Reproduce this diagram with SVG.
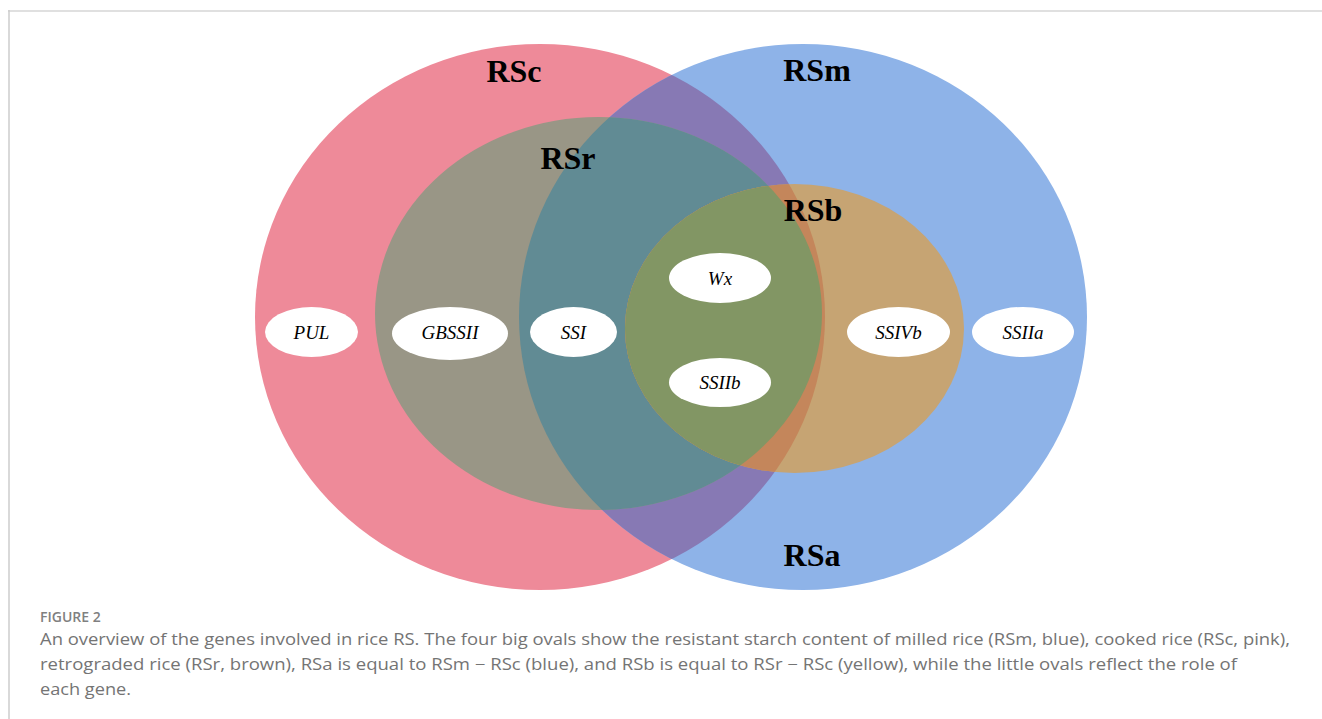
<svg xmlns="http://www.w3.org/2000/svg" width="1322" height="719" viewBox="0 0 1322 719">
  <style>
    .big { font-family: "Liberation Serif", "Times New Roman", serif; font-weight: bold; font-size: 32px; fill: #000; text-anchor: middle; }
    .gene { font-family: "Liberation Serif", "Times New Roman", serif; font-style: italic; font-size: 19px; fill: #000; text-anchor: middle; }
    .oval { fill: #ffffff; }
    .cap { font-family: "Open Sans", "Liberation Sans", sans-serif; font-size: 16px; fill: #747474; }
    .fig { font-family: "Open Sans", "Liberation Sans", sans-serif; font-size: 14px; fill: #808080; font-weight: 600; }
  </style>
  <defs>
    <clipPath id="clipPink"><ellipse cx="540" cy="317" rx="285" ry="273"/></clipPath>
    <clipPath id="clipBlue"><ellipse cx="803" cy="317" rx="284" ry="273"/></clipPath>
    <clipPath id="clipRSr"><ellipse cx="598.5" cy="313.5" rx="223.5" ry="196.5"/></clipPath>
  </defs>
  <rect x="0" y="0" width="1322" height="719" fill="#ffffff"/>
  <!-- frame -->
  <line x1="8" y1="11" x2="1322" y2="11" stroke="#e0e0e0" stroke-width="2"/>
  <line x1="9" y1="10" x2="9" y2="719" stroke="#cccccc" stroke-width="1.5"/>

  <g id="rsc">
    <ellipse cx="540" cy="317" rx="285" ry="273" fill="#EE8A99"/>
  </g>
  <g id="rsm">
    <ellipse cx="803" cy="317" rx="284" ry="273" fill="#8EB3E8"/>
    <ellipse cx="803" cy="317" rx="284" ry="273" fill="#8779B4" clip-path="url(#clipPink)"/>
  </g>
  <g id="rsr">
    <ellipse cx="598.5" cy="313.5" rx="223.5" ry="196.5" fill="#999686"/>
    <ellipse cx="598.5" cy="313.5" rx="223.5" ry="196.5" fill="#618B94" clip-path="url(#clipBlue)"/>
  </g>
  <g id="rsb">
    <ellipse cx="794.5" cy="328.5" rx="169.5" ry="144.5" fill="#C6A473"/>
    <ellipse cx="794.5" cy="328.5" rx="169.5" ry="144.5" fill="#C4865B" clip-path="url(#clipPink)"/>
    <ellipse cx="794.5" cy="328.5" rx="169.5" ry="144.5" fill="#829664" clip-path="url(#clipRSr)"/>
  </g>

  <g id="labels">
    <text class="big" x="514" y="82">RSc</text>
    <text class="big" x="817" y="81">RSm</text>
    <text class="big" x="568" y="169">RSr</text>
    <text class="big" x="813" y="221">RSb</text>
    <text class="big" x="812" y="566">RSa</text>
  </g>

  <g id="gene-PUL">
    <ellipse class="oval" cx="311.5" cy="332" rx="46.5" ry="25"/>
    <text class="gene" x="311.5" y="339">PUL</text>
  </g>
  <g id="gene-GBSSII">
    <ellipse class="oval" cx="450" cy="333.5" rx="58" ry="26.5"/>
    <text class="gene" x="450" y="339">GBSSII</text>
  </g>
  <g id="gene-SSI">
    <ellipse class="oval" cx="573.5" cy="332" rx="43.5" ry="25"/>
    <text class="gene" x="573.5" y="339">SSI</text>
  </g>
  <g id="gene-Wx">
    <ellipse class="oval" cx="720" cy="278" rx="51" ry="25"/>
    <text class="gene" x="720" y="285">Wx</text>
  </g>
  <g id="gene-SSIIb">
    <ellipse class="oval" cx="720" cy="382.5" rx="51" ry="24.5"/>
    <text class="gene" x="720" y="389">SSIIb</text>
  </g>
  <g id="gene-SSIVb">
    <ellipse class="oval" cx="898.5" cy="332" rx="51.5" ry="25"/>
    <text class="gene" x="898.5" y="339">SSIVb</text>
  </g>
  <g id="gene-SSIIa">
    <ellipse class="oval" cx="1023" cy="332" rx="51" ry="25"/>
    <text class="gene" x="1023" y="339">SSIIa</text>
  </g>

  <g id="connectors"></g>

  <g id="caption">
    <text class="fig" x="40" y="622">FIGURE 2</text>
    <text class="cap" x="40" y="645" textLength="1250" lengthAdjust="spacingAndGlyphs">An overview of the genes involved in rice RS. The four big ovals show the resistant starch content of milled rice (RSm, blue), cooked rice (RSc, pink),</text>
    <text class="cap" x="40" y="670" textLength="1197" lengthAdjust="spacingAndGlyphs">retrograded rice (RSr, brown), RSa is equal to RSm − RSc (blue), and RSb is equal to RSr − RSc (yellow), while the little ovals reflect the role of</text>
    <text class="cap" x="40" y="695" textLength="91" lengthAdjust="spacingAndGlyphs">each gene.</text>
  </g>
</svg>
